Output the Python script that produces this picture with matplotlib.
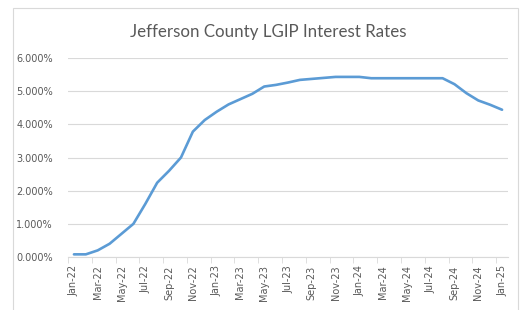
import matplotlib.pyplot as plt
from matplotlib.patches import Rectangle
from matplotlib.ticker import FuncFormatter, FixedLocator

months = ['Jan-22', 'Feb-22', 'Mar-22', 'Apr-22', 'May-22', 'Jun-22', 'Jul-22', 'Aug-22',
          'Sep-22', 'Oct-22', 'Nov-22', 'Dec-22', 'Jan-23', 'Feb-23', 'Mar-23', 'Apr-23',
          'May-23', 'Jun-23', 'Jul-23', 'Aug-23', 'Sep-23', 'Oct-23', 'Nov-23', 'Dec-23',
          'Jan-24', 'Feb-24', 'Mar-24', 'Apr-24', 'May-24', 'Jun-24', 'Jul-24', 'Aug-24',
          'Sep-24', 'Oct-24', 'Nov-24', 'Dec-24', 'Jan-25']
rates = [0.08, 0.08, 0.20, 0.40, 0.70, 1.00, 1.60, 2.24, 2.60, 3.00, 3.78, 4.13,
         4.38, 4.60, 4.76, 4.92, 5.14, 5.19, 5.26, 5.34, 5.37, 5.40, 5.43, 5.43,
         5.43, 5.39, 5.39, 5.39, 5.39, 5.39, 5.39, 5.39, 5.21, 4.94, 4.72, 4.59, 4.44]
y_ticks = [0, 1, 2, 3, 4, 5, 6]

grey = '#595959'
fig = plt.figure(figsize=(5.22, 3.10), dpi=100)
fig.patches.append(Rectangle((13 / 522, -0.05), (518 - 13) / 522, 1 - 8 / 310 + 0.05,
                             transform=fig.transFigure, fill=False,
                             edgecolor='#d9d9d9', linewidth=0.8))
ax = fig.add_axes([68 / 522, 1 - 257 / 310, 440 / 522, 199 / 310])

x = list(range(len(months)))
ax.plot(x, rates, color='#5b9bd5', linewidth=1.9, solid_capstyle='round', zorder=3)

ax.set_xlim(-0.5, len(months) - 0.5)
ax.set_ylim(0, 6)
ax.set_yticks(y_ticks)
ax.yaxis.set_major_formatter(FuncFormatter(lambda v, p: f'{v:.3f}%'))
ax.grid(axis='y', color='#d9d9d9', linewidth=0.8)
ax.set_axisbelow(True)

ax.set_xticks(x[::2])
ax.set_xticklabels(months[::2], rotation=90)
ax.xaxis.set_minor_locator(FixedLocator([i - 0.5 for i in range(0, len(months) + 1, 2)]))
ax.tick_params(axis='x', which='major', length=0, pad=6, labelsize=7, labelcolor=grey)
ax.tick_params(axis='x', which='minor', length=4, color='#d9d9d9')
ax.tick_params(axis='y', length=0, pad=11, labelsize=7, labelcolor=grey)

for s in ['top', 'right', 'left']:
    ax.spines[s].set_visible(False)
ax.spines['bottom'].set_color('#d9d9d9')

fig.text(268 / 522, 1 - 32 / 310, 'Jefferson County LGIP Interest Rates',
         ha='center', va='center', fontsize=12.2, color=grey, family='Lato')

fig.savefig('out.png', dpi=100)
